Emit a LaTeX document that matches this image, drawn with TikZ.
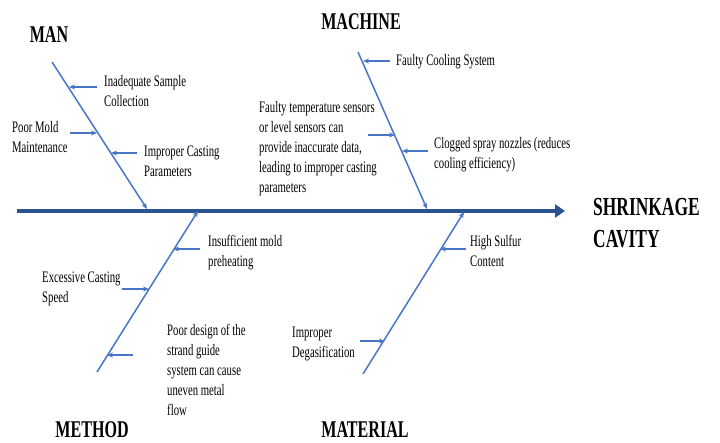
\documentclass[tikz,border=0pt]{standalone}
\usepackage{fontspec}
\setmainfont{Liberation Serif}[FakeStretch=0.67]
\usepackage{xcolor}
\usepackage{tikz}
\usetikzlibrary{arrows.meta, positioning, calc}

\definecolor{spineblue}{RGB}{42,84,145}
\definecolor{boneblue}{RGB}{72,118,196}

\begin{document}
\begin{tikzpicture}[x=1pt, y=-1pt,
    spine/.style={draw=spineblue, line width=4pt, -{Triangle[length=10pt, width=13pt]}},
    bone/.style={draw=boneblue, line width=1.5pt, -{Stealth[length=6pt, width=5pt]}},
    twig/.style={draw=boneblue, line width=1.5pt, -{Stealth[length=6pt, width=5pt]}},
    cause/.style={inner sep=0pt, align=left, anchor=base west, font=\fontsize{16}{20}\selectfont},
    heading/.style={inner sep=0pt, font=\fontsize{24}{28}\selectfont\bfseries}]
    \useasboundingbox (0,0) rectangle (720,443);

    % Spine & effect (multi-line texts sit on the baseline of their last line)
    \coordinate (spineL) at (17,211);
    \coordinate (spineR) at (565,211);
    \draw[spine] (spineL) -- (spineR);
    \node[inner sep=0pt, align=left, anchor=base west, font=\fontsize{26}{32}\selectfont\bfseries] (effect) at (593,248) {SHRINKAGE\\CAVITY};

    % Man
    \node[heading] (man) at (49,35) {MAN};
    \coordinate (manT) at (52,62);
    \coordinate (manH) at (147,209);
    \draw[bone] (manT) -- (manH);
    \node[cause] (sample) at (104,107) {Inadequate Sample\\Collection};
    \node[cause] (mold) at (12,153) {Poor Mold\\Maintenance};
    \node[cause] (params) at (144,177) {Improper Casting\\Parameters};
    \coordinate (sampleS) at (97,87);  \coordinate (sampleE) at (69,87);
    \coordinate (moldS) at (70,133);   \coordinate (moldE) at (97,133);
    \coordinate (paramsS) at (137,153); \coordinate (paramsE) at (111,153);
    \draw[twig] (sampleS) -- (sampleE);
    \draw[twig] (moldS) -- (moldE);
    \draw[twig] (paramsS) -- (paramsE);

    % Machine
    \node[heading] (machine) at (361,22) {MACHINE};
    \coordinate (machT) at (358,52);
    \coordinate (machH) at (427,209);
    \draw[bone] (machT) -- (machH);
    \node[cause] (cooling) at (396,66) {Faulty Cooling System};
    \node[cause] (sensors) at (259,193) {Faulty temperature sensors\\or level sensors can\\provide inaccurate data,\\leading to improper casting\\parameters};
    \node[cause] (nozzles) at (434,169) {Clogged spray nozzles (reduces\\cooling efficiency)};
    \coordinate (coolingS) at (390,61); \coordinate (coolingE) at (363,61);
    \coordinate (sensorsS) at (368,135); \coordinate (sensorsE) at (395,135);
    \coordinate (nozzlesS) at (428,151); \coordinate (nozzlesE) at (402,151);
    \draw[twig] (coolingS) -- (coolingE);
    \draw[twig] (sensorsS) -- (sensorsE);
    \draw[twig] (nozzlesS) -- (nozzlesE);

    % Method
    \node[heading] (method) at (92,430) {METHOD};
    \coordinate (methT) at (97,372);
    \coordinate (methH) at (198,211);
    \draw[bone] (methT) -- (methH);
    \node[cause] (preheat) at (208,267) {Insufficient mold\\preheating};
    \node[cause] (speed) at (42,303) {Excessive Casting\\Speed};
    \node[cause] (guide) at (167,415) {Poor design of the\\strand guide\\system can cause\\uneven metal\\flow};
    \coordinate (preheatS) at (200,249); \coordinate (preheatE) at (173,249);
    \coordinate (speedS) at (122,289);   \coordinate (speedE) at (149,289);
    \coordinate (guideS) at (133,355);   \coordinate (guideE) at (107,355);
    \draw[twig] (preheatS) -- (preheatE);
    \draw[twig] (speedS) -- (speedE);
    \draw[twig] (guideS) -- (guideE);

    % Material
    \node[heading] (material) at (365,430) {MATERIAL};
    \coordinate (matT) at (363,374);
    \coordinate (matH) at (464,212);
    \draw[bone] (matT) -- (matH);
    \node[cause] (sulfur) at (470,267) {High Sulfur\\Content};
    \node[cause] (degas) at (292,358) {Improper\\Degasification};
    \coordinate (sulfurS) at (466,249); \coordinate (sulfurE) at (440,249);
    \coordinate (degasS) at (360,341);  \coordinate (degasE) at (385,341);
    \draw[twig] (sulfurS) -- (sulfurE);
    \draw[twig] (degasS) -- (degasE);
\end{tikzpicture}
\end{document}
